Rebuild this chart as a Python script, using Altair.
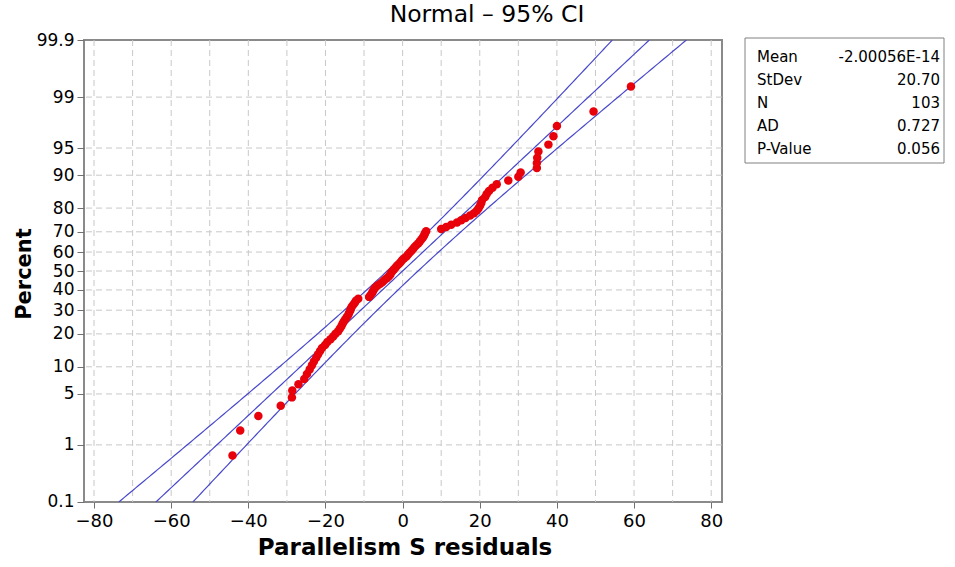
import altair as alt
import pandas as pd
from statistics import NormalDist

# ---- data (sorted residuals) ----
residuals = [
    -44.1, -42.1, -37.4, -31.6, -28.7, -28.6, -27.0, -25.5, -24.8, -24.1,
    -23.5, -23.0, -22.4, -21.9, -21.4, -20.9, -20.1, -19.5, -18.7, -18.0,
    -17.4, -16.7, -16.3, -15.9, -15.6, -15.3, -14.9, -14.5, -14.1, -13.9,
    -13.6, -13.4, -13.2, -12.8, -12.4, -12.1, -11.5, -8.7, -8.3, -7.9,
    -7.7, -7.4, -7.1, -6.5, -5.8, -5.2, -4.7, -4.1, -3.6, -3.2,
    -3.0, -2.6, -2.2, -1.8, -1.4, -0.9, -0.5, -0.1, 0.4, 1.0,
    1.4, 1.8, 2.3, 2.7, 3.1, 3.6, 4.1, 4.5, 4.9, 5.3,
    5.6, 5.8, 6.1, 10.0, 11.3, 12.6, 14.1, 15.2, 16.3, 17.5,
    18.5, 19.2, 19.7, 20.1, 20.4, 20.6, 21.4, 21.8, 22.4, 23.3,
    24.4, 27.4, 30.0, 30.6, 34.8, 34.8, 34.9, 35.2, 37.8, 39.1,
    40.0, 49.5, 59.2,
]
pct_ticks = [0.1, 1, 5, 10, 20, 30, 40, 50, 60, 70, 80, 90, 95, 99, 99.9]
x_ticks = [-80, -60, -40, -20, 0, 20, 40, 60, 80]
x_grid = [-80, -70, -60, -50, -40, -30, -20, -10, 0, 10, 20, 30, 40, 50, 60, 70, 80]
fit_mean = -2.00056e-14
fit_sd = 20.70
n_obs = 103
stat_labels = ["Mean", "StDev", "N", "AD", "P-Value"]
stat_values = ["-2.00056E-14", "20.70", "103", "0.727", "0.056"]
title_text = "Normal \u2013 95% CI"
x_title = "Parallelism S residuals"
y_title = "Percent"

nd = NormalDist()
n = len(residuals)
pts = pd.DataFrame({
    "resid": residuals,
    "z": [nd.inv_cdf((i + 1 - 0.3) / (n + 0.4)) for i in range(n)],
})

zmax = nd.inv_cdf(0.999)
zs = [-zmax + 2 * zmax * k / 200 for k in range(201)]
half = [1.96 * fit_sd * ((1 / n_obs) + z * z / (2 * n_obs)) ** 0.5 for z in zs]
lines = pd.DataFrame({
    "z": zs,
    "fit": [fit_mean + fit_sd * z for z in zs],
    "lo": [fit_mean + fit_sd * z - h for z, h in zip(zs, half)],
    "hi": [fit_mean + fit_sd * z + h for z, h in zip(zs, half)],
})

# tick positions on the probability scale (nudged inside the edges so the end ticks survive)
tick_z = [max(min(nd.inv_cdf(p / 100), zmax - 1e-6), -zmax + 1e-6) for p in pct_ticks]
hgrid = pd.DataFrame({"z": tick_z[1:-1]})
vgrid = pd.DataFrame({"x": x_grid})

W, H = 638, 462
FONT = "DejaVu Sans"
xscale = alt.Scale(domain=[-82.6, 82.8], nice=False, zero=False)
yscale = alt.Scale(domain=[-zmax, zmax], nice=False, zero=False)

xaxis = alt.Axis(values=x_ticks, grid=False, domain=False, tickSize=6,
                 tickColor="#707070", labelFontSize=18, labelFont=FONT,
                 labelColor="black", labelPadding=4, title=None,
                 labelOverlap=False)
yaxis = alt.Axis(values=tick_z, grid=False, domain=False, tickSize=7,
                 tickColor="#707070", labelFontSize=17, labelFont=FONT,
                 labelColor="black", labelPadding=3, title=None,
                 labelOverlap=False, labelBound=False, labelFlush=False,
                 labelExpr="'' + round(cumulativeNormal(datum.value) * 1000) / 10")

grid_v = alt.Chart(vgrid).mark_rule(color="#c8c8c8", strokeDash=[6, 4], strokeWidth=1).encode(
    x=alt.X("x:Q", scale=xscale, axis=xaxis))
grid_h = alt.Chart(hgrid).mark_rule(color="#c8c8c8", strokeDash=[6, 4], strokeWidth=1).encode(
    y=alt.Y("z:Q", scale=yscale, axis=yaxis))

line_color = "#4848cc"
line_layers = [
    alt.Chart(lines).mark_line(color=line_color, strokeWidth=1.2, clip=True).encode(
        x=alt.X(f"{c}:Q", scale=xscale, axis=xaxis),
        y=alt.Y("z:Q", scale=yscale, axis=yaxis), order="z:Q")
    for c in ["lo", "fit", "hi"]
]

points = alt.Chart(pts).mark_circle(size=72, color="#e8000a", opacity=1).encode(
    x=alt.X("resid:Q", scale=xscale, axis=xaxis),
    y=alt.Y("z:Q", scale=yscale, axis=yaxis))

one = pd.DataFrame({"a": [0]})
title_mark = alt.Chart(one).mark_text(font=FONT, fontSize=23.5, align="center", baseline="middle",
                                      color="black").encode(
    x=alt.value(403), y=alt.value(-25), text=alt.value(title_text))
xt = alt.Chart(one).mark_text(font=FONT, fontSize=23, fontWeight="bold", align="center",
                              baseline="middle", color="black").encode(
    x=alt.value(321), y=alt.value(508), text=alt.value(x_title))
yt = alt.Chart(one).mark_text(font=FONT, fontSize=21, fontWeight="bold", align="center",
                              baseline="middle", angle=270, color="black").encode(
    x=alt.value(-59), y=alt.value(234), text=alt.value(y_title))

box = alt.Chart(one).mark_rect(fill="white", stroke="#808080", strokeWidth=1).encode(
    x=alt.value(661), x2=alt.value(860), y=alt.value(-2), y2=alt.value(123))

stat_layers = []
for k, (lab, val) in enumerate(zip(stat_labels, stat_values)):
    yy = 17 + 22.9 * k
    stat_layers.append(alt.Chart(one).mark_text(font=FONT, fontSize=15, align="left",
                                                baseline="middle", color="black").encode(
        x=alt.value(673), y=alt.value(yy), text=alt.value(lab)))
    stat_layers.append(alt.Chart(one).mark_text(font=FONT, fontSize=15, align="right",
                                                baseline="middle", color="black").encode(
        x=alt.value(856), y=alt.value(yy), text=alt.value(val)))

chart = alt.layer(grid_v, grid_h, *line_layers, points, title_mark, xt, yt, box, *stat_layers).properties(
    width=W, height=H,
    autosize=alt.AutoSizeParams(type="none"),
    padding={"left": 84, "top": 40, "right": 233, "bottom": 65},
    background="white",
).configure_view(stroke="#8a8a8a", strokeWidth=2).configure_axis(labelOverlap=False)

chart.save("out.html", embed_options={"renderer": "svg", "actions": False})
